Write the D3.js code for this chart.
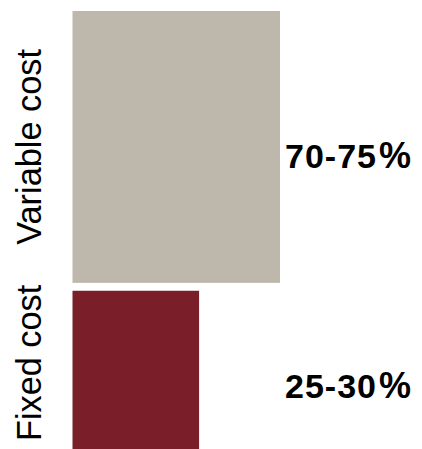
<!DOCTYPE html>
<html><head><meta charset="utf-8">
<script src="https://cdn.jsdelivr.net/npm/d3@7"></script>
<style>body{margin:0;background:#fff}svg{display:block}</style>
</head><body>
<script>
const categories = ["Variable cost", "Fixed cost"];
const shareLabels = ["70-75", "25-30"];
const barWidths = [100, 61];      // relative bar widths
const rowWeights = [62, 36.2];    // relative row heights
const colors = ["#BEB7AB", "#7A1E29"];

const W = 422, H = 449;
const svg = d3.select("body").append("svg").attr("width", W).attr("height", H);

const x = d3.scaleLinear().domain([0, 100]).range([72.5, 280]);
const gap = 1.8;
const total = d3.sum(rowWeights) + gap;
const y = d3.scaleLinear().domain([0, total]).range([11, 449.5]);
let acc = 0;
const rows = categories.map((c, i) => {
  const r = {cat: c, label: shareLabels[i], w: barWidths[i], y0: acc, y1: acc + rowWeights[i], color: colors[i]};
  acc += rowWeights[i] + gap;
  return r;
});

svg.selectAll("rect").data(rows).join("rect")
  .attr("x", x(0))
  .attr("y", d => y(d.y0))
  .attr("width", d => x(d.w) - x(0))
  .attr("height", d => y(d.y1) - y(d.y0))
  .attr("fill", d => d.color);

svg.selectAll("text.cat").data(rows).join("text")
  .attr("class", "cat")
  .attr("transform", (d, i) => `translate(41,${i === 0 ? (y(d.y0) + y(d.y1)) / 2 : (y(d.y0) + 435) / 2}) rotate(-90)`)
  .attr("text-anchor", "middle")
  .attr("font-family", "Liberation Sans, Arial, sans-serif")
  .attr("font-size", 34.3)
  .attr("fill", "#000")
  .text(d => d.cat);

const pct = svg.selectAll("text.pct").data(rows).join("text")
  .attr("class", "pct")
  .attr("x", 285)
  .attr("y", (d, i) => i === 0 ? y(d.y0) + (y(d.y1) - y(d.y0)) * 0.577 : y(d.y0) + (y(d.y1) - y(d.y0)) * 0.675)
  .attr("font-family", "Liberation Sans, Arial, sans-serif")
  .attr("font-weight", "bold")
  .attr("font-size", 34)
  .attr("letter-spacing", 1)
  .attr("fill", "#000")
  .text(d => d.label);
pct.append("tspan").attr("dx", 2).attr("font-size", 36).text("%");
</script>
</body></html>
